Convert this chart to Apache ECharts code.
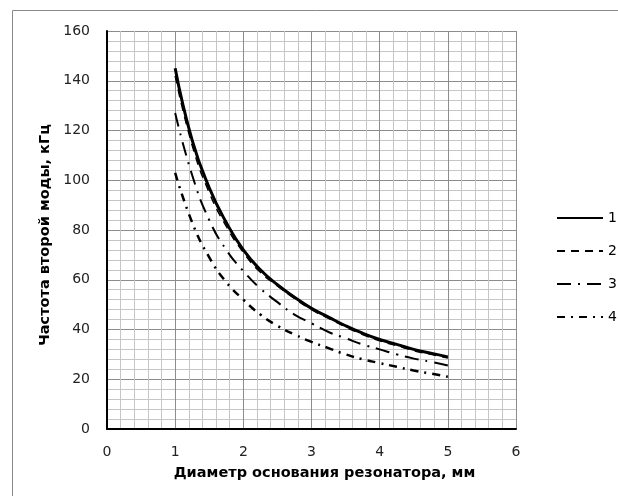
<!DOCTYPE html>
<html>
<head>
<meta charset="utf-8">
<script src="https://cdn.jsdelivr.net/npm/echarts@6/dist/echarts.min.js"></script>
<style>
  html, body { margin: 0; padding: 0; background: #fff; }
  #chart { width: 618px; height: 496px; }
</style>
</head>
<body>
<div id="chart"></div>
<script>
// diameter, mm
var diam = [1, 1.25, 1.5, 1.75, 2, 2.25, 2.5, 2.75, 3, 3.25, 3.5, 3.75, 4, 4.25, 4.5, 4.75, 5];
// frequency of second mode, kHz
var curve1 = [145, 116, 97, 83, 72, 64, 58, 53, 48.5, 45, 41.5, 38.5, 36, 34, 32, 30.5, 29];
var curve2 = [142, 114, 95, 81.5, 71, 63, 57.5, 52.5, 48, 44.5, 41, 38, 35.5, 33.5, 31.5, 30, 28.5];
var curve3 = [127, 102, 84, 72, 63.5, 56.5, 51, 46, 42.5, 39, 36.5, 34, 32, 30, 28.3, 27, 25.5];
var curve4 = [103, 83, 69, 59, 52, 46, 41.5, 38, 35, 32.5, 30, 28, 26.5, 25, 23.5, 22.3, 21];
var names = ["1", "2", "3", "4"];

function pairs(ys) {
  return diam.map(function (d, i) { return [d, ys[i]]; });
}

var chart = echarts.init(document.getElementById("chart"));
var font = "'DejaVu Sans', sans-serif";

function line(name, ys, width, type) {
  return {
    name: name,
    type: "line",
    data: pairs(ys),
    smooth: true,
    symbol: "none",
    lineStyle: { color: "#000", width: width, type: type },
    itemStyle: { color: "#000" }
  };
}

chart.setOption({
  animation: false,
  backgroundColor: "#fff",
  graphic: [{
    type: "rect",
    shape: { x: 12.5, y: 10.5, width: 640, height: 520 },
    style: { fill: "none", stroke: "#8a8a8a", lineWidth: 1 },
    silent: true
  }],
  grid: { left: 107, top: 31, right: 102, bottom: 67 },
  legend: {
    orient: "vertical",
    left: 551,
    top: 206,
    itemWidth: 46,
    itemHeight: 14,
    itemGap: 19,
    itemStyle: { color: "transparent", borderColor: "transparent", borderWidth: 0 },
    textStyle: { fontFamily: font, fontSize: 14, color: "#000" },
    data: names
  },
  xAxis: {
    type: "value",
    min: 0,
    max: 6,
    interval: 1,
    name: "Диаметр основания резонатора, мм",
    nameLocation: "middle",
    nameGap: 37,
    nameTextStyle: { fontFamily: font, fontSize: 14.5, fontWeight: "bold", color: "#000", padding: [0, 0, 0, 26] },
    axisLine: { show: true, onZero: false, lineStyle: { color: "#000", width: 2 } },
    axisTick: { show: false },
    axisLabel: { margin: 16, fontFamily: font, fontSize: 14, color: "#222" },
    splitLine: { show: true, lineStyle: { color: "#8c8c8c", width: 1 } },
    minorTick: { show: false, splitNumber: 5 },
    minorSplitLine: { show: true, lineStyle: { color: "#c6c6c6", width: 1 } }
  },
  yAxis: {
    type: "value",
    min: 0,
    max: 160,
    interval: 20,
    name: "Частота второй моды, кГц",
    nameLocation: "middle",
    nameGap: 47,
    nameTextStyle: { fontFamily: font, fontSize: 14.5, fontWeight: "bold", color: "#000", padding: [0, 10, 0, 0] },
    axisLine: { show: true, onZero: false, lineStyle: { color: "#000", width: 2 } },
    axisTick: { show: false },
    axisLabel: { margin: 17, fontFamily: font, fontSize: 14, color: "#222" },
    splitLine: { show: true, lineStyle: { color: "#8c8c8c", width: 1 } },
    minorTick: { show: false, splitNumber: 5 },
    minorSplitLine: { show: true, lineStyle: { color: "#c6c6c6", width: 1 } }
  },
  series: [
    line(names[0], curve1, 3, "solid"),
    line(names[1], curve2, 1.5, [8, 6]),
    line(names[2], curve3, 2, [14, 7, 2, 7]),
    line(names[3], curve4, 2.5, [8, 6, 2, 6])
  ]
});
</script>
</body>
</html>
